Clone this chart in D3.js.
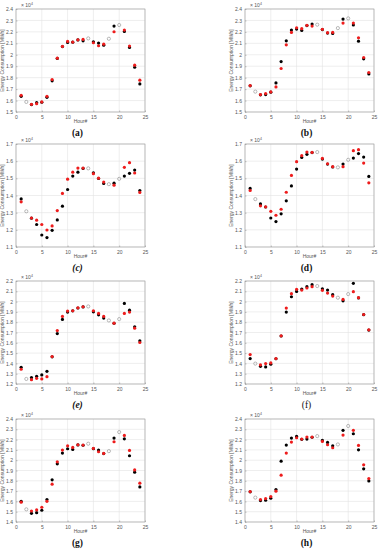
<!DOCTYPE html>
<html>
<head>
<meta charset="utf-8">
<script src="https://cdn.jsdelivr.net/npm/d3@7"></script>
<style>
  body { margin: 0; background: #fff; }
  svg { display: block; }
</style>
</head>
<body>
<div id="chart"></div>
<script>
// hours with measured / predicted values, and hours with only an open marker
var hoursObs = [1, 3, 4, 5, 6, 7, 8, 9, 10, 11, 12, 13, 15, 16, 17, 19, 21, 22, 23, 24];
var hoursOpen = [2, 14, 18, 20];
var xTicks = [0, 5, 10, 15, 20, 25];

// values in units of 10^4 MWh
var blackA = [1.637, 1.565, 1.582, 1.585, 1.628, 1.772, 1.968, 2.072, 2.108, 2.110, 2.130, 2.122, 2.114, 2.102, 2.084, 2.251, 2.204, 2.064, 1.891, 1.745];
var redA   = [1.646, 1.567, 1.573, 1.588, 1.637, 1.783, 1.970, 2.073, 2.117, 2.111, 2.131, 2.134, 2.105, 2.079, 2.093, 2.201, 2.216, 2.076, 1.909, 1.778];
var openA  = [1.588, 2.143, 2.140, 2.260];

var blackB = [1.729, 1.650, 1.652, 1.673, 1.754, 1.941, 2.122, 2.216, 2.225, 2.213, 2.255, 2.269, 2.220, 2.190, 2.187, 2.312, 2.260, 2.119, 1.965, 1.833];
var redB   = [1.731, 1.652, 1.661, 1.675, 1.719, 1.880, 2.087, 2.195, 2.236, 2.228, 2.257, 2.251, 2.222, 2.193, 2.195, 2.277, 2.277, 2.149, 1.976, 1.845];
var openB  = [1.678, 2.263, 2.233, 2.318];

var blackC = [1.380, 1.268, 1.231, 1.170, 1.155, 1.197, 1.258, 1.338, 1.435, 1.513, 1.536, 1.558, 1.532, 1.499, 1.470, 1.472, 1.513, 1.529, 1.548, 1.429];
var redC   = [1.363, 1.269, 1.256, 1.231, 1.199, 1.223, 1.312, 1.412, 1.495, 1.536, 1.560, 1.560, 1.527, 1.501, 1.478, 1.460, 1.564, 1.591, 1.531, 1.418];
var openC  = [1.308, 1.558, 1.466, 1.497];

var blackD = [1.441, 1.351, 1.333, 1.269, 1.248, 1.293, 1.369, 1.456, 1.554, 1.622, 1.640, 1.650, 1.612, 1.583, 1.566, 1.583, 1.618, 1.644, 1.624, 1.511];
var redD   = [1.429, 1.340, 1.334, 1.308, 1.285, 1.320, 1.419, 1.517, 1.597, 1.632, 1.653, 1.651, 1.616, 1.585, 1.568, 1.568, 1.661, 1.667, 1.589, 1.474];
var openD  = [1.379, 1.653, 1.564, 1.608];

var blackE = [1.362, 1.262, 1.275, 1.288, 1.323, 1.464, 1.690, 1.827, 1.898, 1.910, 1.938, 1.948, 1.901, 1.872, 1.840, 1.790, 1.982, 1.917, 1.755, 1.619];
var redE   = [1.343, 1.242, 1.255, 1.249, 1.271, 1.466, 1.719, 1.856, 1.908, 1.911, 1.940, 1.950, 1.911, 1.885, 1.856, 1.791, 1.885, 1.898, 1.742, 1.603];
var openE  = [1.249, 1.953, 1.817, 1.830];

var blackF = [1.447, 1.372, 1.366, 1.392, 1.445, 1.666, 1.898, 2.047, 2.099, 2.122, 2.145, 2.164, 2.125, 2.112, 2.067, 2.008, 2.177, 2.036, 1.873, 1.724];
var redF   = [1.486, 1.385, 1.398, 1.405, 1.447, 1.668, 1.937, 2.077, 2.119, 2.112, 2.132, 2.145, 2.109, 2.083, 2.054, 2.021, 2.096, 2.038, 1.875, 1.726];
var openF  = [1.398, 2.151, 2.038, 2.073];

var blackG = [1.601, 1.484, 1.491, 1.514, 1.618, 1.809, 1.965, 2.069, 2.111, 2.105, 2.148, 2.145, 2.112, 2.098, 2.064, 2.215, 2.208, 2.043, 1.884, 1.741];
var redG   = [1.592, 1.507, 1.517, 1.543, 1.601, 1.767, 1.984, 2.098, 2.140, 2.124, 2.150, 2.147, 2.114, 2.082, 2.066, 2.179, 2.241, 2.095, 1.906, 1.777];
var openG  = [1.523, 2.160, 2.088, 2.273];

var blackH = [1.693, 1.608, 1.611, 1.631, 1.715, 1.991, 2.147, 2.215, 2.231, 2.203, 2.205, 2.223, 2.192, 2.173, 2.140, 2.290, 2.257, 2.101, 1.916, 1.799];
var redH   = [1.695, 1.618, 1.627, 1.647, 1.699, 1.855, 2.069, 2.176, 2.218, 2.205, 2.225, 2.225, 2.182, 2.150, 2.121, 2.244, 2.290, 2.143, 1.955, 1.822];
var openH  = [1.637, 2.234, 2.153, 2.332];

var ticksAB = ["1.5", "1.6", "1.7", "1.8", "1.9", "2", "2.1", "2.2", "2.3", "2.4"];
var ticksCD = ["1.1", "1.2", "1.3", "1.4", "1.5", "1.6", "1.7"];
var ticksEF = ["1.2", "1.3", "1.4", "1.5", "1.6", "1.7", "1.8", "1.9", "2", "2.1", "2.2"];
var ticksGH = ["1.4", "1.5", "1.6", "1.7", "1.8", "1.9", "2", "2.1", "2.2", "2.3", "2.4"];

var panels = [
    {label: "(a)", black: blackA, red: redA, open: openA, ticks: ticksAB},
    {label: "(b)", black: blackB, red: redB, open: openB, ticks: ticksAB},
    {label: "(c)", black: blackC, red: redC, open: openC, ticks: ticksCD, italic: true},
    {label: "(d)", black: blackD, red: redD, open: openD, ticks: ticksCD},
    {label: "(e)", black: blackE, red: redE, open: openE, ticks: ticksEF, italic: true},
    {label: "(f)", black: blackF, red: redF, open: openF, ticks: ticksEF, light: true},
    {label: "(g)", black: blackG, red: redG, open: openG, ticks: ticksGH},
    {label: "(h)", black: blackH, red: redH, open: openH, ticks: ticksGH}
];

var colLeft = [16, 245];
var rowTop = [9, 144, 281, 419];
var pw = 129, ph = 103;

var svg = d3.select("#chart").append("svg")
    .attr("width", 381)
    .attr("height", 550);

panels.forEach(function(p, i) {
    var left = colLeft[i % 2];
    var top = rowTop[Math.floor(i / 2)];
    var yVals = p.ticks.map(Number);

    var x = d3.scaleLinear().domain([0, 25]).range([0, pw]);
    var y = d3.scaleLinear().domain(d3.extent(yVals)).range([ph, 0]);

    var g = svg.append("g")
        .attr("transform", "translate(" + left + "," + top + ")");

    // grid
    g.selectAll(".gx").data(xTicks).enter().append("line")
        .attr("x1", function(d) { return x(d); })
        .attr("x2", function(d) { return x(d); })
        .attr("y1", 0).attr("y2", ph)
        .style("stroke", "#e2e2e2").style("stroke-width", 0.6);
    g.selectAll(".gy").data(yVals).enter().append("line")
        .attr("x1", 0).attr("x2", pw)
        .attr("y1", function(d) { return y(d); })
        .attr("y2", function(d) { return y(d); })
        .style("stroke", "#e2e2e2").style("stroke-width", 0.6);

    g.append("rect")
        .attr("width", pw).attr("height", ph)
        .style("fill", "none").style("stroke", "#9a9a9a").style("stroke-width", 0.6);

    var xAxis = g.append("g")
        .attr("transform", "translate(0," + ph + ")")
        .call(d3.axisBottom(x).tickValues(xTicks).tickSize(-1.5).tickPadding(3));
    var yAxis = g.append("g")
        .call(d3.axisLeft(y).tickValues(yVals).tickSize(-1.5).tickPadding(3)
            .tickFormat(function(d, k) { return p.ticks[k]; }));
    [xAxis, yAxis].forEach(function(a) {
        a.select(".domain").remove();
        a.selectAll("line").style("stroke", "#888").style("stroke-width", 0.5);
        a.selectAll("text")
            .style("font-family", "Liberation Sans, Arial, sans-serif")
            .style("font-size", "5px")
            .style("fill", "#555");
    });

    // x10^4 multiplier
    var mult = g.append("text")
        .attr("x", 5).attr("y", -2.5)
        .style("font-family", "Liberation Sans, Arial, sans-serif")
        .style("font-size", "5px")
        .style("fill", "#555")
        .text("\u00d7 10");
    mult.append("tspan").attr("dy", -2).style("font-size", "3.5px").text("4");

    g.append("text")
        .attr("transform", "translate(" + -12 + "," + (ph / 2) + ") rotate(-90)")
        .attr("text-anchor", "middle")
        .style("font-family", "Liberation Sans, Arial, sans-serif")
        .style("font-size", "5px")
        .style("fill", "#555")
        .text("Energy Consumption [MWh]");

    g.append("text")
        .attr("x", pw / 2).attr("y", ph + 11)
        .attr("text-anchor", "middle")
        .style("font-family", "Liberation Sans, Arial, sans-serif")
        .style("font-size", "5px")
        .style("fill", "#555")
        .text("Hour#");

    g.append("text")
        .attr("x", pw / 2 - 3).attr("y", ph + 24)
        .attr("text-anchor", "middle")
        .style("font-family", "Liberation Serif, Times New Roman, serif")
        .style("font-size", "9.5px")
        .style("font-weight", p.light ? "normal" : "bold")
        .style("font-style", p.italic ? "italic" : "normal")
        .style("fill", "#111")
        .text(p.label);

    // markers
    g.selectAll(".op").data(p.open).enter().append("circle")
        .attr("cx", function(d, k) { return x(hoursOpen[k]); })
        .attr("cy", function(d) { return y(d); })
        .attr("r", 1.6)
        .style("fill", "none").style("stroke", "#777").style("stroke-width", 0.5);
    g.selectAll(".bk").data(p.black).enter().append("circle")
        .attr("cx", function(d, k) { return x(hoursObs[k]); })
        .attr("cy", function(d) { return y(d); })
        .attr("r", 1.6)
        .style("fill", "#000");
    g.selectAll(".rd").data(p.red).enter().append("circle")
        .attr("cx", function(d, k) { return x(hoursObs[k]); })
        .attr("cy", function(d) { return y(d); })
        .attr("r", 1.6)
        .style("fill", "#ee1c1c");
});
</script>
</body>
</html>
